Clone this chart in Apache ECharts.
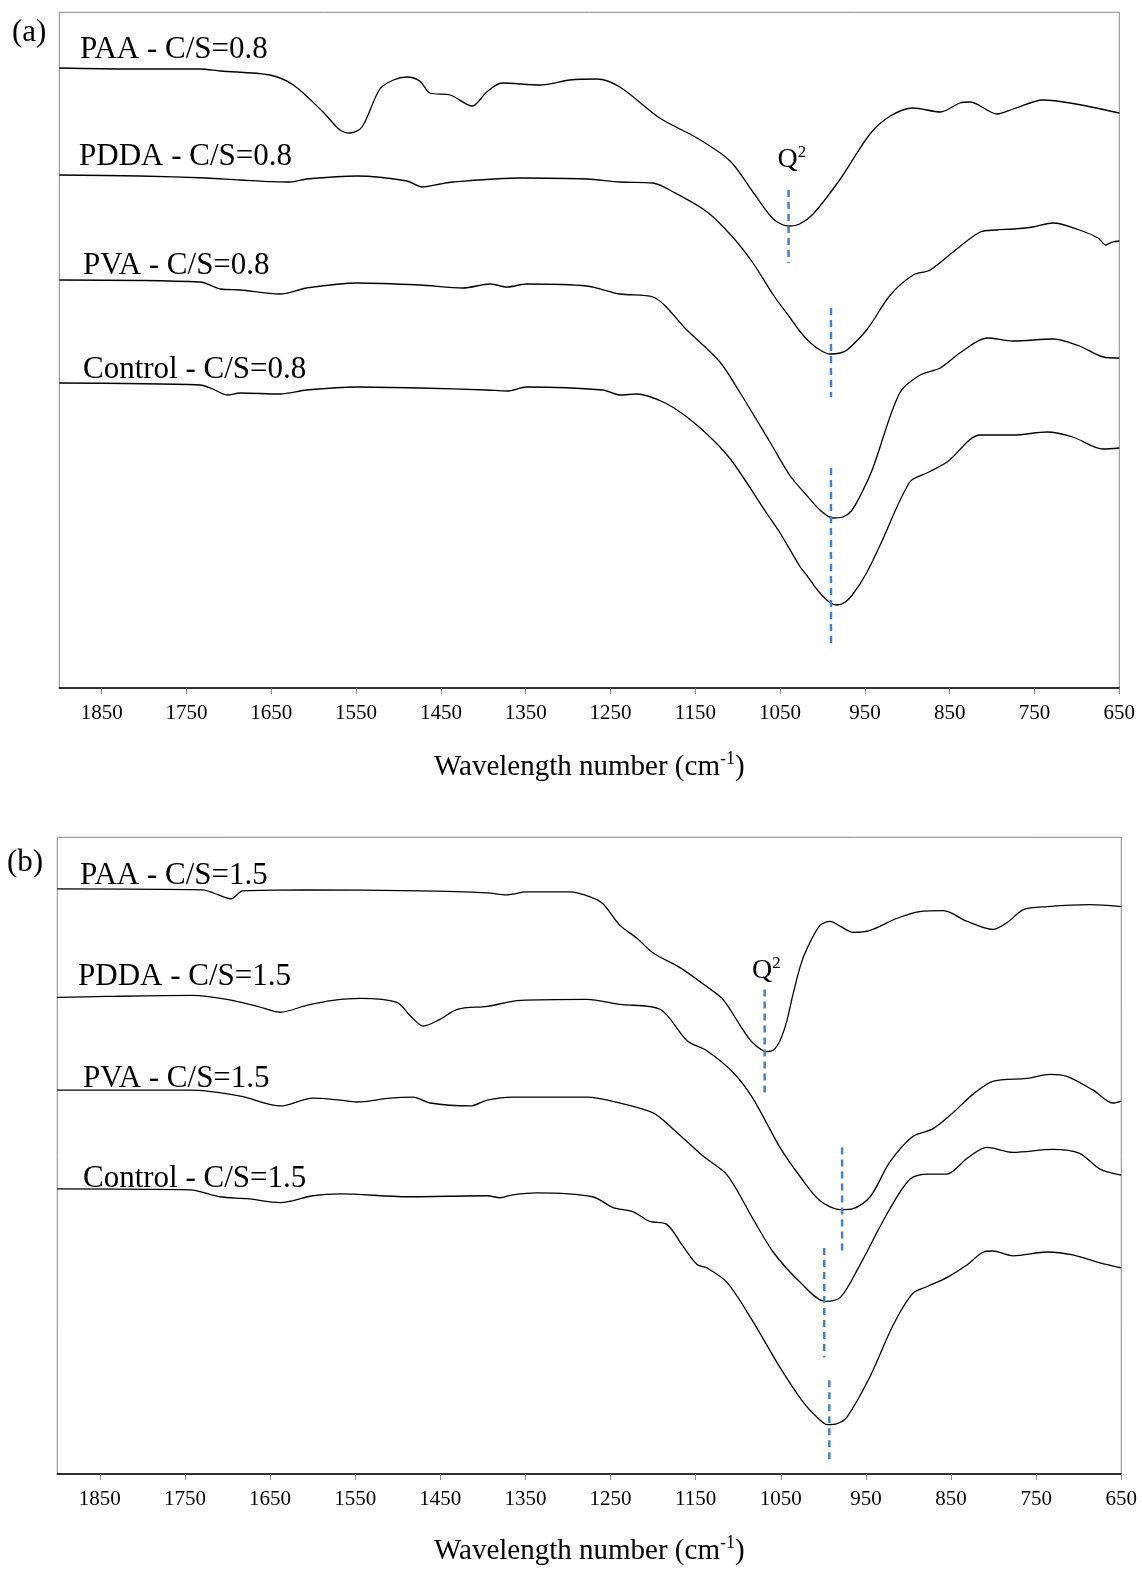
<!DOCTYPE html>
<html>
<head>
<meta charset="utf-8">
<script src="https://cdn.jsdelivr.net/npm/echarts@6/dist/echarts.min.js"></script>
<style>
html,body{margin:0;padding:0;background:#fff;}
#chart{width:1142px;height:1569px;}
</style>
</head>
<body>
<div id="chart"></div>
<script>
// ---- Data (wavenumber cm-1, intensity a.u. with vertical offsets) ----
const tickValues = [1850, 1750, 1650, 1550, 1450, 1350, 1250, 1150, 1050, 950, 850, 750, 650];

// Panel (a) C/S = 0.8
const paa08 = [[1900,620],[1817,619],[1734,619],[1710,617],[1652,613],[1624,603],[1589,576],[1569,558],[1557,555],[1543,561],[1522,599],[1506,608],[1490,611],[1475,607],[1463,595],[1439,593],[1413,582],[1396,596],[1378,605],[1333,603],[1298,608],[1266,609],[1239,601],[1192,570],[1148,550],[1109,527],[1082,496],[1058,469],[1040,462],[1027,464],[1011,474],[979,509],[944,554],[920,572],[893,580],[861,576],[838,585],[826,586],[794,574],[775,579],[740,588],[708,585],[650,575]];
const pdda08 = [[1900,513],[1805,512],[1726,510],[1687,508],[1628,506],[1608,509],[1549,512],[1490,507],[1472,501],[1451,504],[1436,506],[1357,510],[1278,509],[1239,506],[1200,505],[1176,496],[1136,476],[1106,451],[1082,425],[1058,393],[1038,370],[1027,357],[1014,345],[1001,337],[991,334],[979,335],[971,338],[948,358],[920,393],[893,413],[873,418],[846,436],[814,456],[795,458],[775,459],[752,461],[728,465],[697,458],[675,450],[666,443],[658,446],[650,447]];
const pva08 = [[1900,408],[1734,406],[1710,399],[1687,398],[1640,394],[1608,400],[1549,405],[1475,403],[1424,400],[1392,404],[1372,401],[1349,404],[1278,402],[1239,394],[1200,391],[1160,358],[1121,326],[1097,295],[1062,246],[1038,212],[1018,192],[1003,178],[988,170],[976,171],[966,177],[955,193],[941,219],[909,295],[885,313],[861,320],[838,335],[806,350],[775,347],[728,349],[697,342],[669,331],[650,330]];
const control08 = [[1900,305],[1734,303],[1719,299],[1702,293],[1687,295],[1640,294],[1608,298],[1549,301],[1475,300],[1396,298],[1372,297],[1349,301],[1259,298],[1239,293],[1219,294],[1188,286],[1160,271],[1129,248],[1106,226],[1066,175],[1050,155],[1027,122],[1018,112],[1004,96],[992,86],[983,83],[973,86],[964,94],[948,115],[932,143],[897,206],[877,215],[853,226],[814,253],[775,253],[735,256],[705,251],[669,239],[650,240]];
// dashed markers: [wavenumber, from, to]
const marks08 = [[1040,498,425],[990,380,291],[990,220,41]];
const q2Label08 = [1036, 528];

// Panel (b) C/S = 1.5
const paa15 = [[1900,593],[1729,592],[1717,589],[1696,583],[1682,591],[1607,592],[1474,591],[1395,589],[1372,587],[1348,590],[1298,590],[1274,585],[1259,578],[1239,556],[1219,543],[1200,528],[1168,513],[1137,494],[1118,481],[1098,455],[1083,437],[1066,428],[1058,430],[1051,439],[1043,459],[1036,485],[1027,515],[1019,533],[1004,556],[992,560],[980,555],[965,549],[945,551],[914,563],[887,570],[859,571],[831,560],[801,552],[784,559],[765,572],[737,575],[687,577],[650,575]];
const pdda15 = [[1900,483],[1842,484],[1741,485],[1701,481],[1665,474],[1638,468],[1607,475],[1576,480],[1544,482],[1501,478],[1486,465],[1470,454],[1450,461],[1430,471],[1395,474],[1356,480],[1278,481],[1239,476],[1192,471],[1160,439],[1137,429],[1106,407],[1083,381],[1051,331],[1027,301],[1004,277],[980,268],[965,269],[945,281],[922,316],[895,342],[871,350],[848,366],[824,385],[801,398],[761,401],[734,405],[714,403],[683,389],[660,376],[650,378]];
const pva15 = [[1900,389],[1744,389],[1685,383],[1638,373],[1600,381],[1568,379],[1548,377],[1509,381],[1482,382],[1462,376],[1415,373],[1395,379],[1365,382],[1278,382],[1239,376],[1200,366],[1177,350],[1141,322],[1113,303],[1083,259],[1059,225],[1027,194],[998,175],[980,179],[957,212],[925,264],[898,299],[875,304],[855,304],[831,320],[808,331],[777,326],[730,329],[699,325],[675,309],[650,303]];
const control15 = [[1900,289],[1744,288],[1709,281],[1677,279],[1638,275],[1600,282],[1568,284],[1489,281],[1395,282],[1380,280],[1365,283],[1336,285],[1271,281],[1247,270],[1224,266],[1204,256],[1184,253],[1165,231],[1148,212],[1137,209],[1113,194],[1083,155],[1051,108],[1024,73],[1008,58],[995,50],[984,51],[972,58],[945,99],[918,151],[895,183],[878,190],[855,199],[831,212],[812,225],[801,226],[777,221],[737,225],[707,222],[675,214],[650,209]];
const marks15 = [[1069,491,385],[978,331,225],[999,229,118],[993,95,12]];
const q2Label15 = [1067, 510];

const labels08 = ['PAA - C/S=0.8', 'PDDA - C/S=0.8', 'PVA - C/S=0.8', 'Control - C/S=0.8'];
const labels15 = ['PAA - C/S=1.5', 'PDDA - C/S=1.5', 'PVA - C/S=1.5', 'Control - C/S=1.5'];

// ---- Chart ----
const FONT = '"Liberation Serif", "Times New Roman", Times, serif';
const chart = echarts.init(document.getElementById('chart'), null, {renderer: 'canvas'});

function xAxisDef(gridIndex, nameGap) {
  return {
    type: 'value', gridIndex: gridIndex, min: 650, max: 1900, inverse: true,
    name: 'Wavelength number (cm{sup|-1})',
    nameLocation: 'middle', nameGap: nameGap,
    nameTextStyle: {
      fontFamily: FONT, fontSize: 29, color: '#000', lineHeight: 34,
      rich: { sup: { fontFamily: FONT, fontSize: 18, color: '#000', lineHeight: 18, verticalAlign: 'top' } }
    },
    axisLine: { show: true, onZero: false, lineStyle: { color: '#000', width: 1.5 } },
    axisTick: { show: true, customValues: tickValues, length: 6, lineStyle: { color: '#888', width: 1 } },
    axisLabel: { show: true, customValues: tickValues, margin: 15, fontFamily: FONT, fontSize: 21, color: '#000',
                 formatter: v => String(v) },
    splitLine: { show: false }
  };
}
function yAxisDef(gridIndex, max) {
  return { type: 'value', gridIndex: gridIndex, min: 0, max: max, show: false, splitLine: {show: false} };
}
function curve(data, idx) {
  return {
    type: 'line', xAxisIndex: idx, yAxisIndex: idx, data: data, showSymbol: false,
    smooth: 0.3,
    lineStyle: { color: '#000', width: 1.3 }, z: 3, silent: true
  };
}
function dashes(marks, idx) {
  return marks.map(m => ({
    type: 'line', xAxisIndex: idx, yAxisIndex: idx, data: [[m[0], m[1]], [m[0], m[2]]], showSymbol: false,
    lineStyle: { color: '#4a7fc4', width: 2.5, type: [7, 5] }, z: 4, silent: true
  }));
}
function q2(pos, idx) {
  return {
    type: 'scatter', xAxisIndex: idx, yAxisIndex: idx, data: [pos], symbolSize: 1, silent: true,
    itemStyle: { opacity: 0 },
    label: {
      show: true, position: 'inside', formatter: 'Q{sup|2}', opacity: 1,
      fontFamily: FONT, fontSize: 28, color: '#000', lineHeight: 32, textBorderWidth: 0,
      rich: { sup: { fontFamily: FONT, fontSize: 17, color: '#000', lineHeight: 17, verticalAlign: 'top' } }
    },
    z: 10
  };
}
function textEl(str, x, y) {
  return { type: 'text', x: x, y: y, style: { text: str, fontFamily: FONT, fontSize: 31, fill: '#000', textVerticalAlign: 'middle', textAlign: 'left' }, z: 10 };
}

const option = {
  animation: false,
  backgroundColor: '#fff',
  grid: [
    { left: 59.3, top: 12.3, width: 1060, height: 675.7, show: true, borderColor: '#888', borderWidth: 1, backgroundColor: 'transparent' },
    { left: 57.3, top: 837.3, width: 1064, height: 645.3, show: true, borderColor: '#888', borderWidth: 1, backgroundColor: 'transparent' }
  ],
  xAxis: [xAxisDef(0, 62), xAxisDef(1, 60)],
  yAxis: [yAxisDef(0, 675.7), yAxisDef(1, 645.3)],
  series: [
    curve(paa08, 0), curve(pdda08, 0), curve(pva08, 0), curve(control08, 0),
    ...dashes(marks08, 0), q2(q2Label08, 0),
    curve(paa15, 1), curve(pdda15, 1), curve(pva15, 1), curve(control15, 1),
    ...dashes(marks15, 1), q2(q2Label15, 1)
  ],
  graphic: [
    textEl('(a)', 12, 33),
    textEl(labels08[0], 80, 50),
    textEl(labels08[1], 79, 157),
    textEl(labels08[2], 83, 266),
    textEl(labels08[3], 83, 370),
    textEl('(b)', 7, 863),
    textEl(labels15[0], 80, 876),
    textEl(labels15[1], 78, 977),
    textEl(labels15[2], 83, 1079),
    textEl(labels15[3], 83, 1179)
  ]
};
chart.setOption(option);
</script>
</body>
</html>
